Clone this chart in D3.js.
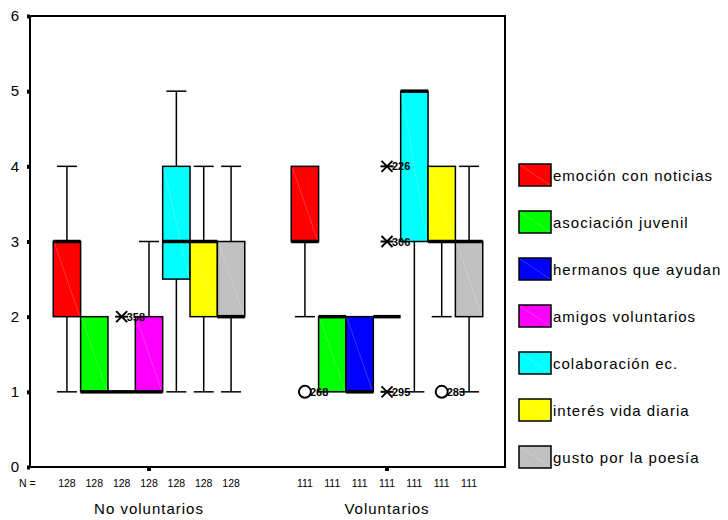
<!DOCTYPE html>
<html><head><meta charset="utf-8">
<script src="https://cdn.jsdelivr.net/npm/d3@7"></script>
<style>
body{margin:0;background:#fff;}
text{font-family:"Liberation Sans",Arial,sans-serif;fill:#000;}
</style></head>
<body>
<svg id="chart" width="728" height="520"></svg>
<script>
// ---------- data ----------
const groups = ["No voluntarios", "Voluntarios"];
const series = ["emoción con noticias", "asociación juvenil", "hermanos que ayudan",
  "amigos voluntarios", "colaboración ec.", "interés vida diaria", "gusto por la poesía"];
const colors = ["#ff0000", "#00ff00", "#0000ff", "#ff00ff", "#00ffff", "#ffff00", "#c0c0c0"];
const nCounts = [128, 111];
const yTicks = [0, 1, 2, 3, 4, 5, 6];

const noVolMin = [1, 1, 1, 1, 1, 1, 1];
const noVolQ1  = [2, 1, 1, 1, 2.5, 2, 2];
const noVolMed = [3, 1, 1, 1, 3, 3, 2];
const noVolQ3  = [3, 2, 1, 2, 4, 3, 3];
const noVolMax = [4, 2, 1, 3, 5, 4, 4];

const volMin = [2, 1, 1, 2, 1, 2, 1];
const volQ1  = [3, 1, 1, 2, 3, 3, 2];
const volMed = [3, 2, 1, 2, 5, 3, 3];
const volQ3  = [4, 2, 2, 2, 5, 4, 3];
const volMax = [4, 2, 2, 2, 5, 4, 4];

const outlierGroup  = ["No voluntarios", "Voluntarios", "Voluntarios", "Voluntarios", "Voluntarios", "Voluntarios"];
const outlierSeries = [2, 0, 3, 3, 3, 5];
const outlierValue  = [2, 1, 4, 3, 1, 1];
const outlierType   = ["star", "circle", "star", "star", "star", "circle"];
const outlierLabel  = ["358", "268", "226", "306", "295", "283"];

// ---------- build ----------
const stats = [
  {min: noVolMin, q1: noVolQ1, med: noVolMed, q3: noVolQ3, max: noVolMax},
  {min: volMin, q1: volQ1, med: volQ1 === null ? null : volMed, q3: volQ3, max: volMax}
];

const svg = d3.select("#chart");
const plot = {left: 30, right: 505, top: 16, bottom: 467};

const x = d3.scaleBand().domain(groups).range([plot.left, plot.right + 1]).padding(0);
const y = d3.scaleLinear().domain([0, 6]).range([plot.bottom, plot.top]);
const groupWidth = 191.5;
const xs = d3.scaleBand().domain(d3.range(series.length)).padding(0);

// frame
svg.append("rect").attr("x", plot.left).attr("y", plot.top)
  .attr("width", plot.right - plot.left).attr("height", plot.bottom - plot.top)
  .attr("fill", "none").attr("stroke", "#000").attr("stroke-width", 2);

// y axis
const yAxis = svg.append("g").attr("transform", `translate(${plot.left},0)`)
  .call(d3.axisLeft(y).tickValues(yTicks).tickFormat(d3.format("d")).tickSize(3).tickPadding(8));
yAxis.select(".domain").remove();
yAxis.selectAll(".tick line").attr("stroke", "#000").attr("stroke-width", 4);
yAxis.selectAll(".tick text").style("font-size", "15px").style("font-family", "Liberation Sans, Arial, sans-serif");

// x axis tick squares
const xAxis = svg.append("g").attr("transform", `translate(0,${plot.bottom})`)
  .call(d3.axisBottom(x).tickSize(4).tickFormat(""));
xAxis.select(".domain").remove();
xAxis.selectAll(".tick line").attr("stroke", "#000").attr("stroke-width", 4);

groups.forEach((g, gi) => {
  const c = x(g) + x.bandwidth() / 2;
  xs.range([c - groupWidth / 2, c + groupWidth / 2]);
  const bw = xs.bandwidth();
  const st = stats[gi];
  const gEl = svg.append("g");
  series.forEach((s, si) => {
    const x0 = xs(si), cx = x0 + bw / 2;
    const mn = st.min[si], q1 = st.q1[si], md = st.med[si], q3 = st.q3[si], mx = st.max[si];
    // whiskers
    if (mx > q3) {
      gEl.append("line").attr("x1", cx).attr("x2", cx).attr("y1", y(q3)).attr("y2", y(mx))
        .attr("stroke", "#000").attr("stroke-width", 1.5);
      gEl.append("line").attr("x1", cx - 10).attr("x2", cx + 10).attr("y1", y(mx)).attr("y2", y(mx))
        .attr("stroke", "#000").attr("stroke-width", 1.5);
    }
    if (mn < q1) {
      gEl.append("line").attr("x1", cx).attr("x2", cx).attr("y1", y(q1)).attr("y2", y(mn))
        .attr("stroke", "#000").attr("stroke-width", 1.5);
      gEl.append("line").attr("x1", cx - 10).attr("x2", cx + 10).attr("y1", y(mn)).attr("y2", y(mn))
        .attr("stroke", "#000").attr("stroke-width", 1.5);
    }
    // box
    if (q3 > q1) {
      gEl.append("rect").attr("x", x0).attr("y", y(q3)).attr("width", bw).attr("height", y(q1) - y(q3))
        .attr("fill", colors[si]).attr("stroke", "#000").attr("stroke-width", 1.5);
      gEl.append("line").attr("x1", x0 + 1).attr("y1", y(q3) + 1).attr("x2", x0 + bw - 1).attr("y2", y(q1) - 1)
        .attr("stroke", "#fff").attr("stroke-opacity", 0.35).attr("stroke-width", 0.6);
    }
    // median
    gEl.append("line").attr("x1", x0).attr("x2", x0 + bw).attr("y1", y(md)).attr("y2", y(md))
      .attr("stroke", "#000").attr("stroke-width", 3.5);
    // N label
    svg.append("text").attr("x", cx).attr("y", 487).attr("text-anchor", "middle")
      .style("font-size", "10.5px").text(nCounts[gi]);
  });
  // group label
  svg.append("text").attr("x", c).attr("y", 514).attr("text-anchor", "middle")
    .style("font-size", "15px").style("letter-spacing", "1px").text(g);
});

svg.append("text").attr("x", 19).attr("y", 487).style("font-size", "10.5px").text("N =");

// outliers
outlierGroup.forEach((g, i) => {
  const c = x(g) + x.bandwidth() / 2;
  xs.range([c - groupWidth / 2, c + groupWidth / 2]);
  const cx = xs(outlierSeries[i]) + xs.bandwidth() / 2;
  const cy = y(outlierValue[i]);
  if (outlierType[i] === "star") {
    const r = 5.5;
    const p = svg.append("g").attr("stroke", "#000").attr("stroke-width", 2);
    p.append("line").attr("x1", cx - r).attr("x2", cx + r).attr("y1", cy - r).attr("y2", cy + r);
    p.append("line").attr("x1", cx - r).attr("x2", cx + r).attr("y1", cy + r).attr("y2", cy - r);
    p.append("line").attr("x1", cx - r - 1).attr("x2", cx + r + 1).attr("y1", cy).attr("y2", cy);
  } else {
    svg.append("circle").attr("cx", cx).attr("cy", cy).attr("r", 6)
      .attr("fill", "#fff").attr("stroke", "#000").attr("stroke-width", 2);
  }
  svg.append("text").attr("x", cx + 5).attr("y", cy + 4)
    .style("font-size", "11px").style("font-weight", "bold").text(outlierLabel[i]);
});

// legend
const lg = svg.append("g");
series.forEach((s, i) => {
  const cy = 175 + i * 47;
  lg.append("rect").attr("x", 519).attr("y", cy - 11).attr("width", 32).attr("height", 22)
    .attr("fill", colors[i]).attr("stroke", "#000").attr("stroke-width", 1.5);
  lg.append("line").attr("x1", 520).attr("y1", cy - 10).attr("x2", 550).attr("y2", cy + 10)
    .attr("stroke", "#fff").attr("stroke-opacity", 0.35).attr("stroke-width", 0.6);
  lg.append("text").attr("x", 553).attr("y", cy + 5.5).style("font-size", "15px")
    .style("letter-spacing", "1px").text(s);
});
</script>
</body></html>
